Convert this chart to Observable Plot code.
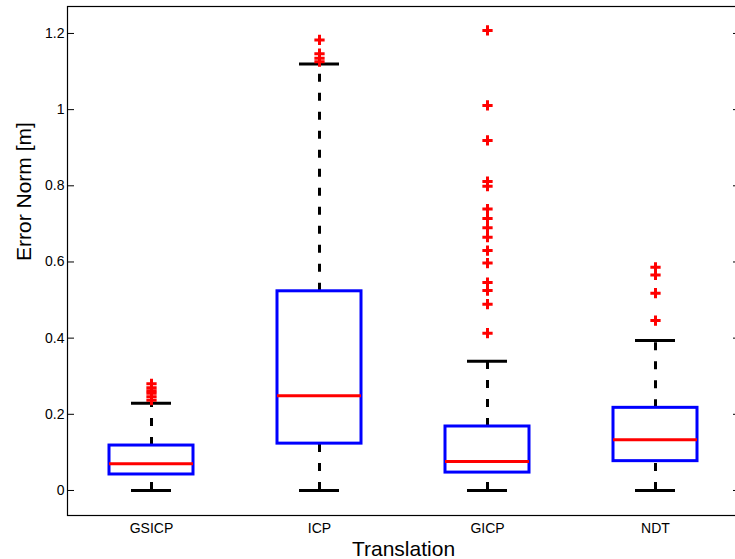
<!DOCTYPE html>
<html>
<head>
<meta charset="utf-8">
<script src="https://cdn.jsdelivr.net/npm/d3@7"></script>
<script src="https://cdn.jsdelivr.net/npm/@observablehq/plot@0.6"></script>
<style>
  html, body { margin: 0; padding: 0; background: #fff; }
</style>
</head>
<body>
<div id="chart"></div>
<script>
// Translation error of four registration methods (box plot summary)
const methods   = ["GSICP", "ICP", "GICP", "NDT"];
const lowerWhisker = [0, 0, 0, 0];
const q1        = [0.042, 0.123, 0.047, 0.077];
const medians   = [0.070, 0.249, 0.076, 0.133];
const q3        = [0.118, 0.523, 0.168, 0.217];
const upperWhisker = [0.229, 1.120, 0.339, 0.394];

const outliersGSICP = [0.280, 0.270, 0.262, 0.255, 0.246, 0.237];
const outliersICP   = [1.183, 1.147, 1.135, 1.126];
const outliersGICP  = [1.208, 1.011, 0.919, 0.811, 0.799, 0.739, 0.714, 0.690,
                       0.665, 0.630, 0.597, 0.546, 0.525, 0.489, 0.413];
const outliersNDT   = [0.586, 0.566, 0.518, 0.446];

const yTicks      = [0, 0.2, 0.4, 0.6, 0.8, 1, 1.2];
const yTickLabels = ["0", "0.2", "0.4", "0.6", "0.8", "1", "1.2"];
const yLimits     = [-0.0657, 1.2708];
const xTitle = "Translation";
const yTitle = "Error Norm [m]";

const boxes = methods.map((m, i) => ({
  method: m, lo: lowerWhisker[i], q1: q1[i], med: medians[i], q3: q3[i], hi: upperWhisker[i]
}));
const outlierLists = [outliersGSICP, outliersICP, outliersGICP, outliersNDT];
const outliers = outlierLists.flatMap((list, i) => list.map(v => ({method: methods[i], value: v})));

const font = "'Liberation Sans', Arial, Helvetica, sans-serif";
const whisker = {stroke: "#000", strokeWidth: 3, strokeDasharray: "8,11"};

const chart = Plot.plot({
  width: 735,
  height: 559,
  marginLeft: 67,
  marginRight: -4,
  marginTop: 6,
  marginBottom: 44,
  style: {fontFamily: font, fontSize: "14px", color: "#000", background: "#fff", overflow: "visible"},
  x: {type: "band", domain: methods, padding: 0},
  y: {domain: yLimits},
  marks: [
    // whiskers
    Plot.ruleX(boxes, {x: "method", y1: "q3", y2: "hi", ...whisker}),
    Plot.ruleX(boxes, {x: "method", y1: "lo", y2: "q1", ...whisker}),
    // whisker caps
    Plot.tickY(boxes, {x: "method", y: "hi", stroke: "#000", strokeWidth: 3, inset: 64}),
    Plot.tickY(boxes, {x: "method", y: "lo", stroke: "#000", strokeWidth: 3, inset: 64}),
    // boxes
    Plot.rect(boxes, {x: "method", y1: "q1", y2: "q3", fill: "none", stroke: "#0000ff", strokeWidth: 3,
      insetLeft: 42, insetRight: 42}),
    // medians
    Plot.tickY(boxes, {x: "method", y: "med", stroke: "#ff0000", strokeWidth: 3, inset: 42}),
    // outliers
    Plot.dot(outliers, {x: "method", y: "value", symbol: "plus", r: 3.4, stroke: "#ff0000", strokeWidth: 3}),
    // axes
    Plot.axisY(yTicks, {anchor: "left", tickSize: -7, tickPadding: 10, tickFormat: (d, i) => yTickLabels[i],
      label: null, fontSize: 14}),
    Plot.axisY(yTicks, {anchor: "right", tickSize: -7, tickFormat: () => "", label: null}),
    Plot.axisX({anchor: "bottom", tickSize: 0, tickPadding: 8, label: null, fontSize: 14}),
    // axis titles
    Plot.text([yTitle], {frameAnchor: "left", rotate: -90, dx: -43, fontSize: 21, lineAnchor: "middle"}),
    Plot.text([xTitle], {frameAnchor: "bottom", dy: 40, fontSize: 21, lineAnchor: "bottom"}),
    Plot.frame({stroke: "#000", strokeWidth: 1.2})
  ]
});

document.getElementById("chart").appendChild(chart);
</script>
</body>
</html>
